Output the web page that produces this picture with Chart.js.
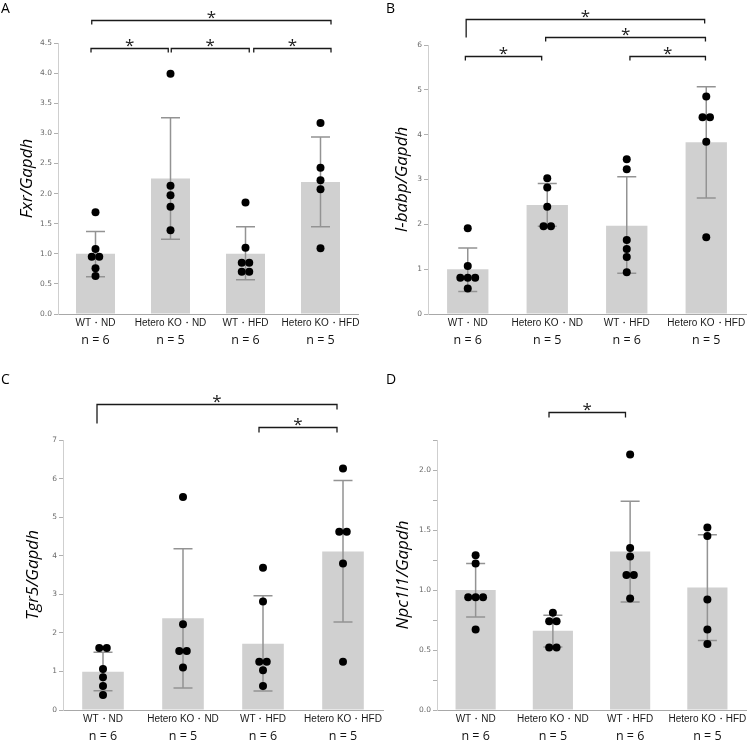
<!DOCTYPE html>
<html>
<head>
<meta charset="utf-8">
<script src="https://cdn.jsdelivr.net/npm/chart.js@4.4.1/dist/chart.umd.min.js"></script>
<style>
  body { margin: 0; background: #fff; }
  #wrap { position: relative; width: 750px; height: 741px; overflow: hidden; }
  canvas { position: absolute; }
  .tag { position: absolute; font: 14px "Open Sans", sans-serif; color: #000; line-height: 1; }
</style>
</head>
<body>
<div id="wrap">
  <canvas id="panelA" width="375" height="370" style="left:0;top:0"></canvas>
  <canvas id="panelB" width="375" height="370" style="left:375px;top:0"></canvas>
  <canvas id="panelC" width="400" height="371" style="left:0;top:370px"></canvas>
  <canvas id="panelD" width="375" height="371" style="left:375px;top:370px"></canvas>
  <div class="tag" style="left:1px;top:1px">A</div>
  <div class="tag" style="left:386px;top:1px">B</div>
  <div class="tag" style="left:1px;top:372px">C</div>
  <div class="tag" style="left:386px;top:372px">D</div>
</div>
<script>
const groups = ['WT・ND', 'Hetero KO・ND', 'WT・HFD', 'Hetero KO・HFD'];
const nLabels = ['n = 6', 'n = 5', 'n = 6', 'n = 5'];

// A - Fxr
const fxrMean = [1.0, 2.25, 1.0, 2.19];
const fxrLow = [0.62, 1.24, 0.57, 1.45];
const fxrHigh = [1.37, 3.26, 1.45, 2.94];
const fxrPoints = [
    [1.69, 1.08, 0.95, 0.95, 0.76, 0.63],
    [3.99, 2.13, 1.97, 1.78, 1.39],
    [1.85, 1.10, 0.85, 0.85, 0.70, 0.70],
    [3.17, 2.43, 2.22, 2.07, 1.09]
];

// B - I-babp
const ibabpMean = [1.0, 2.43, 1.97, 3.83];
const ibabpLow = [0.50, 1.96, 0.91, 2.59];
const ibabpHigh = [1.47, 2.91, 3.06, 5.07];
const ibabpPoints = [
    [1.91, 1.07, 0.81, 0.81, 0.81, 0.57],
    [3.03, 2.82, 2.39, 1.96, 1.96],
    [3.45, 3.23, 1.65, 1.45, 1.27, 0.93],
    [4.85, 4.39, 4.39, 3.84, 1.71]
];

// C - Tgr5
const tgr5Mean = [0.99, 2.38, 1.72, 4.11];
const tgr5Low = [0.50, 0.57, 0.49, 2.28];
const tgr5High = [1.50, 4.18, 2.96, 5.95];
const tgr5Points = [
    [1.61, 1.61, 1.06, 0.85, 0.62, 0.39],
    [5.52, 2.22, 1.53, 1.53, 1.10],
    [3.69, 2.81, 1.25, 1.25, 1.03, 0.62],
    [6.26, 4.62, 4.62, 3.80, 1.25]
];

// D - Npc1l1
const npcMean = [1.0, 0.66, 1.32, 1.02];
const npcLow = [0.775, 0.525, 0.90, 0.58];
const npcHigh = [1.22, 0.79, 1.74, 1.46];
const npcPoints = [
    [1.29, 1.22, 0.94, 0.94, 0.94, 0.67],
    [0.81, 0.74, 0.74, 0.52, 0.52],
    [2.13, 1.35, 1.28, 1.125, 1.125, 0.93],
    [1.52, 1.45, 0.92, 0.67, 0.55]
];

// significance brackets: from / to on the group axis, level in y units
const fxrBrackets = [
    { from: -0.05, to: 3.14, level: 4.88, dropL: 4, dropR: 4 },
    { from: -0.06, to: 0.97, level: 4.42, dropL: 4, dropR: 4 },
    { from: 1.01, to: 2.05, level: 4.42, dropL: 4, dropR: 4 },
    { from: 2.11, to: 3.14, level: 4.42, dropL: 4, dropR: 4 }
];
const ibabpBrackets = [
    { from: -0.02, to: 2.98, level: 6.59, dropL: 18, dropR: 4 },
    { from: 0.98, to: 2.99, level: 6.17, dropL: 4, dropR: 4 },
    { from: -0.03, to: 0.93, level: 5.76, dropL: 4, dropR: 4 },
    { from: 2.04, to: 2.99, level: 5.76, dropL: 4, dropR: 4 }
];
const tgr5Brackets = [
    { from: -0.075, to: 2.925, level: 7.94, dropL: 19, dropR: 5 },
    { from: 1.95, to: 2.925, level: 7.34, dropL: 5, dropR: 5 }
];
const npcBrackets = [
    { from: 0.95, to: 1.94, level: 2.48, dropL: 5, dropR: 5 }
];

// error bars on top of the bars
const errorBars = {
    id: 'errorBars',
    afterDatasetDraw(chart, args, opts) {
        if (args.index !== 0) return;
        const ctx = chart.ctx;
        const y = chart.scales.y;
        ctx.save();
        ctx.strokeStyle = '#939393';
        ctx.lineWidth = 1.5;
        args.meta.data.forEach((bar, i) => {
            const yl = y.getPixelForValue(opts.low[i]);
            const yh = y.getPixelForValue(opts.high[i]);
            ctx.beginPath();
            ctx.moveTo(bar.x, yl);
            ctx.lineTo(bar.x, yh);
            ctx.moveTo(bar.x - 9.5, yl);
            ctx.lineTo(bar.x + 9.5, yl);
            ctx.moveTo(bar.x - 9.5, yh);
            ctx.lineTo(bar.x + 9.5, yh);
            ctx.stroke();
        });
        ctx.restore();
    }
};

const sigBrackets = {
    id: 'sigBrackets',
    afterDraw(chart, args, opts) {
        const ctx = chart.ctx;
        const xs = chart.scales.xs;
        const y = chart.scales.y;
        ctx.save();
        ctx.strokeStyle = '#1a1a1a';
        ctx.fillStyle = '#1a1a1a';
        ctx.lineWidth = 1.3;
        ctx.font = '17px "Open Sans", sans-serif';
        ctx.textAlign = 'center';
        ctx.textBaseline = 'alphabetic';
        opts.list.forEach((b) => {
            const x1 = xs.getPixelForValue(b.from);
            const x2 = xs.getPixelForValue(b.to);
            const yy = Math.round(y.getPixelForValue(b.level)) + 0.5;
            ctx.beginPath();
            ctx.moveTo(x1, yy + b.dropL);
            ctx.lineTo(x1, yy);
            ctx.lineTo(x2, yy);
            ctx.lineTo(x2, yy + b.dropR);
            ctx.stroke();
            ctx.fillText('*', (x1 + x2) / 2, yy + 2);
        });
        ctx.restore();
    }
};

// put equal values side by side
const spread = (vals, g, catPx) => {
    const out = [];
    let i = 0;
    while (i < vals.length) {
        let j = i;
        while (j < vals.length && vals[j] === vals[i]) j++;
        const k = j - i;
        for (let m = 0; m < k; m++) {
            out.push({ x: g + (m - (k - 1) / 2) * 7.5 / catPx, y: vals[i] });
        }
        i = j;
    }
    return out;
};

const makePanel = (p) => {
    const canvas = document.getElementById(p.id);
    const catPx = (canvas.width - p.area.left - p.area.right) / 4;
    const pts = [];
    p.points.forEach((vals, g) => pts.push(...spread(vals, g, catPx)));

    new Chart(canvas, {
        type: 'bar',
        data: {
            labels: groups,
            datasets: [{
                data: p.mean,
                backgroundColor: '#d0d0d0',
                barPercentage: 0.52,
                categoryPercentage: 1,
                grouped: false,
                xAxisID: 'x',
                yAxisID: 'y',
                order: 1
            }, {
                type: 'scatter',
                data: pts,
                xAxisID: 'xs',
                yAxisID: 'y',
                pointRadius: 4,
                pointBackgroundColor: '#000',
                pointBorderWidth: 0,
                order: 0
            }]
        },
        options: {
            responsive: false,
            animation: false,
            events: [],
            layout: { padding: { left: 0, right: p.area.right, top: p.area.top, bottom: 0 } },
            plugins: {
                legend: { display: false },
                tooltip: { enabled: false },
                errorBars: { low: p.low, high: p.high },
                sigBrackets: { list: p.brackets }
            },
            scales: {
                x: {
                    type: 'category',
                    labels: groups,
                    offset: true,
                    weight: 0,
                    grid: { display: false, drawTicks: false },
                    border: { color: '#a8a8a8', width: 1 },
                    ticks: { font: { family: 'Liberation Sans', size: 10 }, color: '#1a1a1a', padding: 3, maxRotation: 0, autoSkip: false },
                    afterFit: (s) => { s.height = 18; }
                },
                xn: {
                    type: 'category',
                    position: 'bottom',
                    labels: nLabels,
                    offset: true,
                    weight: 1,
                    grid: { display: false, drawTicks: false },
                    border: { display: false },
                    ticks: { font: { family: 'Open Sans', size: 12.5 }, color: '#111', padding: 1, maxRotation: 0, autoSkip: false },
                    afterFit: (s) => { s.height = p.area.bottom - 18; }
                },
                xs: { type: 'linear', display: false, offset: false, min: -0.5, max: 3.5 },
                y: {
                    min: 0,
                    max: p.yMax,
                    grid: { drawOnChartArea: false, drawTicks: true, tickLength: 4, color: '#b0b0b0' },
                    border: { color: '#cfcfcf', width: 1 },
                    ticks: {
                        stepSize: p.yStep,
                        padding: 2,
                        font: { family: 'DejaVu Sans', size: 7.5 },
                        color: '#6a6a6a',
                        autoSkip: false,
                        callback: p.tickLabel
                    },
                    title: {
                        display: true,
                        text: p.title,
                        font: { family: 'Open Sans', size: 17, style: 'italic' },
                        color: '#000',
                        padding: { top: p.titlePad, bottom: 0 }
                    },
                    afterFit: (s) => { s.width = p.area.left; }
                }
            }
        },
        plugins: [errorBars, sigBrackets]
    });
};

makePanel({
    id: 'panelA', title: 'Fxr/Gapdh',
    mean: fxrMean, low: fxrLow, high: fxrHigh, points: fxrPoints, brackets: fxrBrackets,
    yMax: 4.5, yStep: 0.5, tickLabel: (v) => v.toFixed(1),
    area: { left: 58, right: 17, top: 43, bottom: 56 }, titlePad: 17
});
makePanel({
    id: 'panelB', title: 'I-babp/Gapdh',
    mean: ibabpMean, low: ibabpLow, high: ibabpHigh, points: ibabpPoints, brackets: ibabpBrackets,
    yMax: 6, yStep: 1, tickLabel: (v) => String(v),
    area: { left: 53, right: 1, top: 45, bottom: 56 }, titlePad: 17
});
makePanel({
    id: 'panelC', title: 'Tgr5/Gapdh',
    mean: tgr5Mean, low: tgr5Low, high: tgr5High, points: tgr5Points, brackets: tgr5Brackets,
    yMax: 7, yStep: 1, tickLabel: (v) => String(v),
    area: { left: 63, right: 17, top: 70, bottom: 31 }, titlePad: 23
});
makePanel({
    id: 'panelD', title: 'Npc1l1/Gapdh',
    mean: npcMean, low: npcLow, high: npcHigh, points: npcPoints, brackets: npcBrackets,
    yMax: 2.25, yStep: 0.25, tickLabel: (v) => (v % 0.5 === 0 && v <= 2 ? v.toFixed(1) : ''),
    area: { left: 62, right: 1, top: 70, bottom: 31 }, titlePad: 18
});
</script>
</body>
</html>
